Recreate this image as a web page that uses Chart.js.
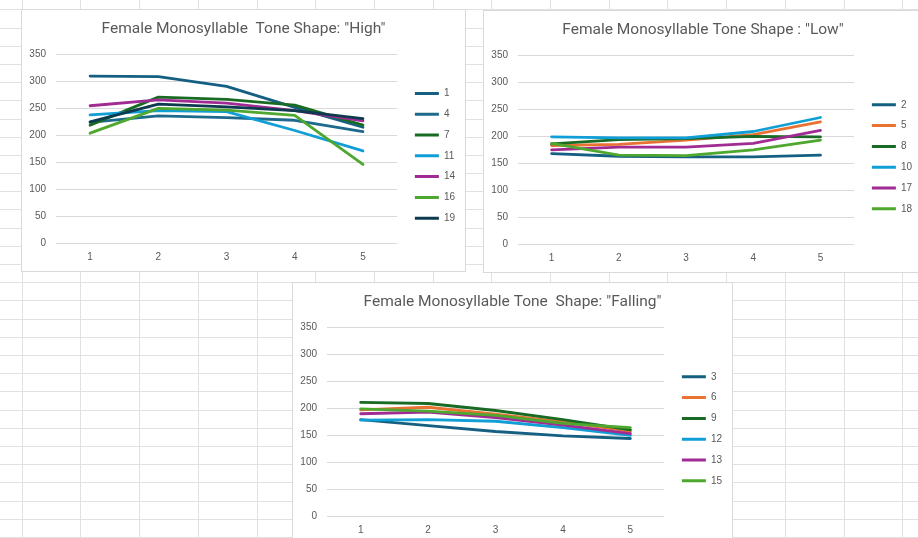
<!DOCTYPE html>
<html>
<head>
<meta charset="utf-8">
<script src="https://cdn.jsdelivr.net/npm/chart.js@4.4.1/dist/chart.umd.min.js"></script>
<style>
  html, body { margin: 0; padding: 0; width: 918px; height: 538px; overflow: hidden; background: #fff; }
  #sheet { position: absolute; left: 0; top: 0; }
  .panel { position: absolute; background: #fff; border: 1px solid #d9d9d9; box-sizing: border-box; }
  .panel canvas { position: absolute; left: 0; top: 0; }
</style>
</head>
<body>
<canvas id="sheet" width="918" height="538"></canvas>
<div class="panel" style="left:21px;top:9px;width:445px;height:263px"><canvas id="c1" width="443" height="261"></canvas></div>
<div class="panel" style="left:483px;top:10px;width:440px;height:263px"><canvas id="c2" width="438" height="261"></canvas></div>
<div class="panel" style="left:292px;top:282px;width:441px;height:263px"><canvas id="c3" width="439" height="261"></canvas></div>
<script>
// x categories (sample points along the syllable)
const points = ['1', '2', '3', '4', '5'];

// "High" tone syllables
const highNames = ['1', '4', '7', '11', '14', '16', '19'];
const high1  = [310, 309, 291, 252, 215];
const high4  = [224, 236, 233, 228, 207];
const high7  = [219, 271, 267, 256, 219];
const high11 = [238, 246, 244, 209, 171];
const high14 = [255, 266, 260, 246, 227];
const high16 = [204, 250, 247, 237, 146];
const high19 = [225, 258, 253, 246, 231];

// "Low" tone syllables
const lowNames = ['2', '5', '8', '10', '17', '18'];
const low2  = [168, 163, 162, 162, 165];
const low5  = [183, 185, 193, 203, 227];
const low8  = [186, 194, 196, 200, 199];
const low10 = [199, 197, 197, 209, 235];
const low17 = [175, 180, 180, 187, 211];
const low18 = [187, 165, 164, 175, 193];

// "Falling" tone syllables
const fallNames = ['3', '6', '9', '12', '13', '15'];
const fall3  = [179, 168, 157, 149, 144];
const fall6  = [197, 202, 189, 175, 157];
const fall9  = [211, 209, 196, 179, 160];
const fall12 = [178, 179, 176, 164, 150];
const fall13 = [190, 193, 183, 169, 153];
const fall15 = [199, 195, 187, 172, 164];

// y axis ticks
const yMin = 0;
const yMax = 350;
const yStep = 50;

const officeColors = ['#156082', '#E97132', '#196B24', '#0F9ED5', '#A02B93', '#4EA72E'];
const highColors = ['#156082', '#1D6A8C', '#196B24', '#0F9ED5', '#A02B93', '#4EA72E', '#0D3A4E'];

// spreadsheet grid behind the charts
const sh = document.getElementById('sheet').getContext('2d');
sh.strokeStyle = '#e1e1e1';
sh.lineWidth = 1;
sh.beginPath();
for (let x = 21.7; x < 918; x += 58.7) {
    const px = Math.round(x) + 0.5;
    sh.moveTo(px, 0); sh.lineTo(px, 538);
}
for (let y = 9.3; y < 538; y += 18.2) {
    const py = Math.round(y) + 0.5;
    sh.moveTo(0, py); sh.lineTo(918, py);
}
sh.stroke();

const tickFont = { family: "'Liberation Sans', Arial, sans-serif", size: 10 };
const textColor = '#595959';

function makeChart(id, title, names, series, colors) {
    const n = series.length;
    const datasets = series.map((vals, i) => ({
        label: names[i],
        data: vals,
        borderColor: colors[i],
        backgroundColor: colors[i],
        borderWidth: 2.8,
        pointRadius: 0,
        tension: 0,
        borderJoinStyle: 'round',
        borderCapStyle: 'round',
        order: n - i
    }));

    new Chart(document.getElementById(id), {
        type: 'line',
        data: { labels: points, datasets: datasets },
        options: {
            responsive: false,
            animation: false,
            layout: { padding: 0 },
            plugins: {
                tooltip: { enabled: false },
                title: {
                    display: true,
                    text: title,
                    color: textColor,
                    font: { family: "Roboto, 'Open Sans', sans-serif", size: 15.5, weight: 'normal' },
                    padding: { top: 10, bottom: 16 }
                },
                legend: {
                    position: 'right',
                    align: 'center',
                    fullSize: false,
                    title: { display: true, text: '', font: { size: 10 }, padding: 1 },
                    labels: {
                        boxWidth: 24,
                        boxHeight: 3,
                        padding: 10.8,
                        color: textColor,
                        font: tickFont,
                        sort: (a, b) => a.datasetIndex - b.datasetIndex,
                        generateLabels: chart =>
                            Chart.defaults.plugins.legend.labels.generateLabels(chart)
                                .map(l => ({ ...l, fillStyle: l.strokeStyle, lineWidth: 0 }))
                    }
                }
            },
            scales: {
                x: {
                    offset: true,
                    grid: { display: false, drawTicks: false },
                    border: { display: false },
                    ticks: { color: textColor, font: tickFont, padding: 8, maxRotation: 0 }
                },
                y: {
                    min: yMin,
                    max: yMax,
                    grid: { color: '#d9d9d9', drawTicks: false },
                    border: { display: false },
                    ticks: { stepSize: yStep, color: textColor, font: tickFont, padding: 10 },
                    afterFit: s => { s.width = 34; }
                },
                gap: {
                    type: 'linear',
                    position: 'right',
                    grid: { display: false, drawTicks: false },
                    border: { display: false },
                    ticks: { display: false },
                    afterFit: s => { s.width = 7; }
                }
            }
        }
    });
}

makeChart('c1', 'Female Monosyllable  Tone Shape: "High"', highNames,
    [high1, high4, high7, high11, high14, high16, high19], highColors);
makeChart('c2', 'Female Monosyllable Tone Shape : "Low"', lowNames,
    [low2, low5, low8, low10, low17, low18], officeColors);
makeChart('c3', 'Female Monosyllable Tone  Shape: "Falling"', fallNames,
    [fall3, fall6, fall9, fall12, fall13, fall15], officeColors);
</script>
</body>
</html>
